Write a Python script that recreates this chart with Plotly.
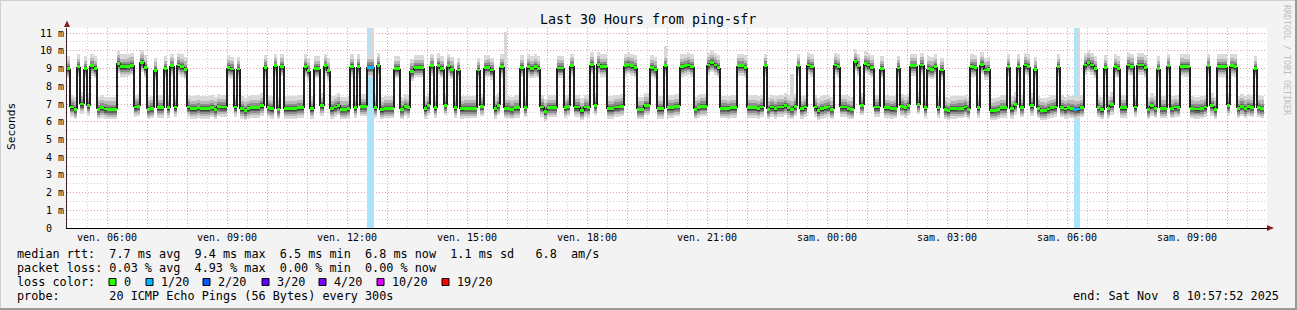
import pandas as pd
import plotly.graph_objects as go

# ---------------- data ----------------
START = "2025-11-07 05:00"
END = "2025-11-08 11:00"

# median RTT per 5-minute step (ms)
median_rtt_ms = [
    9.0, 6.83, 6.7, 9.1, 7.0, 9.0, 6.9, 9.15, 9.0, 6.7, 6.78, 6.72, 6.7, 6.7, 6.7, 9.3, 9.1, 9.1, 9.12, 9.18,
    6.83, 6.88, 9.35, 9.05, 6.7, 6.76, 8.9, 6.78, 6.78, 9.0, 6.78, 9.15, 6.83, 9.2, 9.1, 8.95, 6.83, 6.73, 6.73, 6.78,
    6.73, 6.73, 6.73, 6.8, 6.7, 6.86, 6.83, 6.83, 9.05, 8.98, 6.83, 8.98, 6.73, 6.64, 6.73, 6.78, 6.78, 6.78, 6.9, 9.08,
    6.8, 6.73, 9.15, 6.7, 9.12, 6.73, 6.73, 6.73, 6.73, 6.78, 6.78, 9.1, 8.87, 6.73, 9.0, 9.0, 6.9, 9.15, 8.87, 6.73,
    6.83, 6.92, 6.7, 6.7, 6.73, 9.1, 6.78, 9.1, 6.86, 6.86, 9.08, 9.08, 6.78, 9.18, 6.68, 6.76, 6.76, 6.76, 9.0, 9.0,
    6.7, 6.86, 6.78, 8.85, 9.05, 9.05, 9.05, 6.73, 6.92, 9.15, 6.78, 9.17, 9.0, 6.92, 9.15, 8.95, 6.78, 8.92, 6.73, 6.76,
    6.76, 6.76, 6.76, 8.92, 6.88, 9.05, 9.08, 8.92, 6.73, 6.92, 9.1, 6.76, 6.76, 6.7, 6.78, 6.78, 9.05, 6.8, 9.1, 9.0,
    9.1, 9.0, 6.83, 6.6, 6.8, 6.8, 6.8, 9.03, 9.03, 6.78, 6.88, 9.15, 6.83, 6.83, 6.62, 6.83, 6.78, 9.22, 6.92, 9.25,
    9.1, 9.1, 6.73, 6.73, 6.83, 6.83, 6.88, 9.15, 9.22, 9.15, 9.05, 6.7, 6.7, 6.92, 6.92, 9.05, 8.95, 6.73, 6.73, 9.15,
    6.78, 6.78, 6.86, 6.86, 9.1, 9.15, 9.2, 9.1, 6.7, 6.78, 6.88, 6.88, 9.2, 9.33, 9.2, 9.05, 6.76, 6.76, 6.73, 6.78,
    6.78, 9.15, 9.15, 9.05, 6.78, 6.78, 6.78, 6.73, 6.83, 9.15, 6.7, 6.83, 6.73, 6.83, 6.83, 6.92, 6.78, 6.7, 6.88, 9.15,
    6.73, 6.83, 9.2, 9.1, 6.83, 6.62, 6.73, 6.78, 6.83, 6.7, 9.2, 9.1, 6.83, 6.83, 6.73, 6.7, 9.4, 9.15, 6.92, 9.28,
    9.2, 9.05, 6.83, 6.83, 9.0, 6.78, 6.78, 6.73, 6.76, 9.03, 6.88, 6.78, 6.92, 9.15, 9.15, 6.97, 9.2, 6.78, 9.0, 8.95,
    9.1, 6.78, 8.92, 6.7, 6.62, 6.73, 6.73, 6.76, 6.76, 6.83, 6.7, 9.1, 9.08, 6.78, 9.22, 8.92, 8.95, 6.62, 6.64, 6.7,
    6.78, 6.78, 9.1, 6.73, 6.95, 9.1, 6.8, 9.2, 9.1, 6.9, 8.95, 6.75, 6.65, 6.62, 6.72, 6.78, 6.83, 9.1, 6.8, 6.72,
    6.78, 6.75, 6.7, 6.72, 6.8, 9.2, 9.35, 9.2, 9.0, 6.8, 6.68, 9.05, 6.75, 6.95, 9.1, 9.0, 6.78, 6.78, 9.2, 9.12,
    6.83, 9.2, 9.2, 9.05, 6.7, 6.9, 6.75, 9.0, 6.75, 6.75, 9.15, 6.75, 6.83, 6.8, 9.12, 9.1, 9.1, 6.75, 6.72, 6.72,
    6.75, 6.83, 9.15, 6.9, 6.7, 9.1, 9.1, 9.1, 6.92, 9.15, 9.1, 6.75, 6.88, 6.75, 6.85, 6.8, 9.0, 6.8, 6.75, None,
]

# steps with packet loss (pings lost out of 20)
loss_time = ["2025-11-07 12:30", "2025-11-07 12:35", "2025-11-08 06:10", "2025-11-08 06:15"]
loss_pings = [1, 1, 1, 1]

# isolated slow pings (highest ping of the step, ms)
spike_time = ["2025-11-07 12:35", "2025-11-07 15:55", "2025-11-07 19:55", "2025-11-07 23:05", "2025-11-08 06:15"]
spike_max_ms = [11.3, 11.06, 10.25, 8.7, 11.3]

# spread of the 20 sorted pings around the median (ms): (low, high) per smoke rank, outer -> inner
smoke_rank_lo = [-0.55, -0.42, -0.3, -0.2, -0.11]
smoke_rank_hi = [0.7, 0.45, 0.27, 0.13, 0.05]

x_tick_times = ["2025-11-07 06:00", "2025-11-07 09:00", "2025-11-07 12:00", "2025-11-07 15:00",
                "2025-11-07 18:00", "2025-11-07 21:00", "2025-11-08 00:00", "2025-11-08 03:00",
                "2025-11-08 06:00", "2025-11-08 09:00"]
x_tick_labels = ["ven. 06:00", "ven. 09:00", "ven. 12:00", "ven. 15:00", "ven. 18:00", "ven. 21:00",
                 "sam. 00:00", "sam. 03:00", "sam. 06:00", "sam. 09:00"]
y_tick_vals = list(range(0, 12))
y_tick_labels = ["0  "] + [f"{v} m" for v in range(1, 12)]

loss_levels = ["0", "1/20", "2/20", "3/20", "4/20", "10/20", "19/20"]
loss_level_colors = ["#26ff00", "#00b8ff", "#0059ff", "#5e00ff", "#7e00ff", "#dd00ff", "#ff0000"]

# ---------------- geometry helpers ----------------
W, H = 1297, 310
L, R, T, B = 67, 1267, 28, 228
YMAX = 11.29
FONT = "DejaVu Sans Mono"
STEP = pd.Timedelta(minutes=5)
STEP_MS = 300000
MS_PER_PX = 30 * 3600 * 1000 / (R - L)


def px(x):
    return (x - L) / (R - L)


def py(y):
    return (B - y) / (B - T)


def nb(s):
    return s.replace(" ", "\u00a0")


starts = pd.date_range(START, periods=len(median_rtt_ms), freq="5min")
centers = starts + STEP / 2
loss_set = set(pd.to_datetime(loss_time))

fig = go.Figure()

# loss background bars
loss_centers = pd.to_datetime(loss_time) + STEP / 2
fig.add_trace(go.Bar(x=loss_centers, y=[YMAX] * len(loss_time), base=[0] * len(loss_time),
                     width=STEP_MS, marker=dict(color="#abe4fb", line=dict(width=0)),
                     customdata=loss_pings, showlegend=False))

# slow-ping spikes
spk_c, spk_b, spk_h = [], [], []
for t, m in zip(pd.to_datetime(spike_time), spike_max_ms):
    i = list(starts).index(t)
    spk_c.append(centers[i])
    spk_b.append(median_rtt_ms[i])
    spk_h.append(m - median_rtt_ms[i])
fig.add_trace(go.Bar(x=spk_c, y=spk_h, base=spk_b, width=STEP_MS,
                     marker=dict(color="#d8d8d8", line=dict(width=0)), showlegend=False))

# smoke
smoke_colors = ["#dadada", "#b8b8b8", "#8e8e8e", "#616161", "#3a3a3a"]
valid = [(c, m) for c, m in zip(centers, median_rtt_ms) if m is not None]
vc = [c for c, _ in valid]
vm = [m for _, m in valid]
for lo, hi, col in zip(smoke_rank_lo, smoke_rank_hi, smoke_colors):
    fig.add_trace(go.Bar(x=vc, y=[hi - lo] * len(vm), base=[m + lo for m in vm], width=STEP_MS,
                         marker=dict(color=col, line=dict(width=0)), showlegend=False))

# median step line: vertical jumps between consecutive steps (thin bars so they sit under the marks)
jx, jb, jh = [], [], []
for k in range(1, len(median_rtt_ms)):
    a, b = median_rtt_ms[k - 1], median_rtt_ms[k]
    if a is None or b is None:
        continue
    jx.append(starts[k])
    jb.append(min(a, b))
    jh.append(abs(b - a))
fig.add_trace(go.Bar(x=jx, y=jh, base=jb, width=0.9 * MS_PER_PX,
                     marker=dict(color="#202020", line=dict(width=0)), showlegend=False))

# median marks coloured by loss
mk_col = [loss_level_colors[1] if s in loss_set else loss_level_colors[0]
          for s, m in zip(starts, median_rtt_ms) if m is not None]
fig.add_trace(go.Bar(x=vc, y=[0.16] * len(vm), base=[m - 0.08 for m in vm], width=STEP_MS,
                     marker=dict(color=mk_col, line=dict(width=0)), showlegend=False))

# ---------------- axes ----------------
hour_ticks = pd.date_range("2025-11-07 06:00", "2025-11-08 10:00", freq="1h")
lab = dict(zip(pd.to_datetime(x_tick_times), x_tick_labels))
hour_text = [nb(lab.get(h, "")) for h in hour_ticks]

fig.update_layout(
    width=W, height=H, autosize=False,
    margin=dict(l=L, r=W - R, t=T, b=H - B, pad=0),
    paper_bgcolor="#f3f3f3", plot_bgcolor="#ffffff",
    barmode="overlay", bargap=0, hovermode=False, showlegend=False,
    font=dict(family=FONT, color="#000000"),
    xaxis=dict(type="date", range=[START, END], tickmode="array", tickvals=hour_ticks, ticktext=hour_text,
               showgrid=True, gridcolor="#e8a0a0", griddash="1px,2px", gridwidth=1,
               minor=dict(tickmode="linear", tick0=START, dtick=1800000, showgrid=True,
                          gridcolor="#cfcfcf", griddash="1px,2px", gridwidth=1, ticks=""),
               ticks="", tickfont=dict(family=FONT, size=10, color="#000"),
               showline=True, linecolor="#000000", linewidth=1, zeroline=False, fixedrange=True),
    yaxis=dict(range=[0, YMAX], tickmode="array", tickvals=y_tick_vals, ticktext=[nb(t) for t in y_tick_labels],
               showgrid=True, gridcolor="#e8a0a0", griddash="1px,2px", gridwidth=1,
               minor=dict(tickmode="linear", tick0=0, dtick=0.5, showgrid=True,
                          gridcolor="#cfcfcf", griddash="1px,2px", gridwidth=1, ticks=""),
               ticks="", tickfont=dict(family=FONT, size=10, color="#000"),
               showline=True, linecolor="#3a2020", linewidth=1, zeroline=False, fixedrange=True),
)

ann = []


def text(x, y, s, size=11.8, anchor="left", color="#000000", angle=0):
    ann.append(dict(x=px(x), y=py(y), xref="paper", yref="paper", text=nb(s), showarrow=False,
                    xanchor=anchor, yanchor="middle", textangle=angle,
                    font=dict(family=FONT, size=size, color=color)))


text(648, 19, "Last 30 Hours from ping-sfr", size=13.3, anchor="center")
text(11, 127, "Seconds", size=11.2, anchor="center", angle=-90)
text(1287, 60, "RRDTOOL / TOBI OETIKER", size=8.3, anchor="center", color="#bdbdbd", angle=90)
text(15, 254, "median rtt:  7.7 ms avg  9.4 ms max  6.5 ms min  6.8 ms now  1.1 ms sd   6.8  am/s")
text(15, 268, "packet loss: 0.03 % avg  4.93 % max  0.00 % min  0.00 % now")
text(15, 282, "loss color:")
text(15, 296, "probe:       20 ICMP Echo Pings (56 Bytes) every 300s")
text(1281, 296, "end: Sat Nov  8 10:57:52 2025", anchor="right")

shapes = []
box_x = [109, 146, 203, 262, 319, 377, 442]
for bx, lvl, col in zip(box_x, loss_levels, loss_level_colors):
    shapes.append(dict(type="rect", xref="paper", yref="paper", x0=px(bx), x1=px(bx + 7),
                       y0=py(285.5), y1=py(278.5), fillcolor=col, line=dict(color="#000000", width=1)))
    text(bx + 13, 282, lvl)

# axis arrows
shapes.append(dict(type="path", xref="paper", yref="paper",
                   path=f"M {px(64)} {py(27)} L {px(67)} {py(20.5)} L {px(70)} {py(27)} Z",
                   fillcolor="#8b1a1a", line=dict(width=0)))
shapes.append(dict(type="path", xref="paper", yref="paper",
                   path=f"M {px(1267)} {py(225)} L {px(1274)} {py(228)} L {px(1267)} {py(231)} Z",
                   fillcolor="#8b1a1a", line=dict(width=0)))
shapes.append(dict(type="line", xref="paper", yref="paper", x0=px(1267), x1=px(1268), y0=py(228.5), y1=py(228.5),
                   line=dict(color="#000", width=1)))
# frame
shapes.append(dict(type="line", xref="paper", yref="paper", x0=px(0), x1=px(W), y0=py(0.5), y1=py(0.5),
                   line=dict(color="#d0d0d0", width=1)))
shapes.append(dict(type="line", xref="paper", yref="paper", x0=px(0.5), x1=px(0.5), y0=py(0), y1=py(H),
                   line=dict(color="#d0d0d0", width=1)))
shapes.append(dict(type="line", xref="paper", yref="paper", x0=px(0), x1=px(W), y0=py(H - 1), y1=py(H - 1),
                   line=dict(color="#9a9a9a", width=2)))
shapes.append(dict(type="line", xref="paper", yref="paper", x0=px(W - 1), x1=px(W - 1), y0=py(0), y1=py(H),
                   line=dict(color="#9a9a9a", width=2)))

fig.update_layout(annotations=ann, shapes=shapes)
fig.write_html("out.html")
